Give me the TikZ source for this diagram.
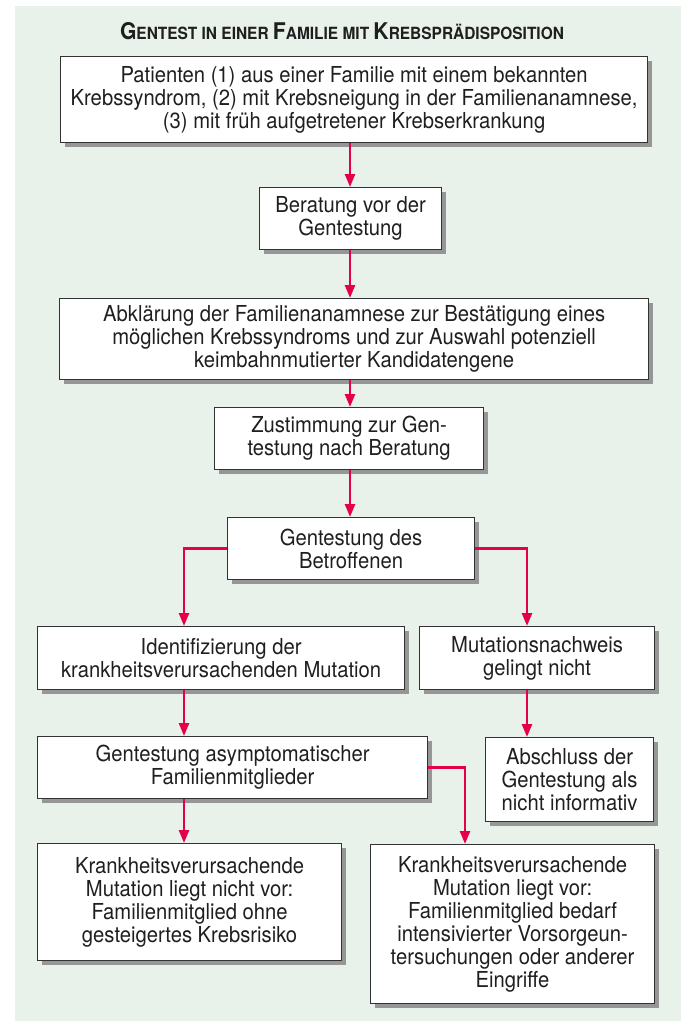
\documentclass[tikz,border=0pt]{standalone}
\usepackage{fontspec}
\setmainfont[FakeStretch=0.92]{TeX Gyre Heros}
\usetikzlibrary{arrows.meta,shadows}
\definecolor{panel}{RGB}{232,242,234}
\definecolor{arr}{RGB}{228,0,74}
\definecolor{frame}{RGB}{50,50,50}
\definecolor{shade}{RGB}{150,150,150}
\begin{document}
\begin{tikzpicture}[x=1pt,y=-1pt,
  box/.style={draw=frame, line width=1.2pt, fill=white, align=center, inner sep=0pt,
    anchor=north west, font=\fontsize{22}{23}\selectfont, text=black!88,
    drop shadow={shadow xshift=4pt, shadow yshift=-4pt, fill=shade, opacity=1}},
  conn/.style={draw=arr, line width=2.5pt, -{Triangle[length=13pt,width=10pt]}},
  ttl/.style={font=\bfseries\fontsize{16.8}{17}\selectfont, text=black!88, anchor=base}
]
\useasboundingbox (0,0) rectangle (681,1021);
\fill[panel] (15,6) rectangle (681,1021);

\node[ttl] (title) at (342,39) {{\fontsize{23}{23}\selectfont G}ENTEST IN EINER {\fontsize{23}{23}\selectfont F}AMILIE MIT {\fontsize{23}{23}\selectfont K}REBSPRÄDISPOSITION};

\node[box, minimum width=587pt, minimum height=86pt] (b1) at (60,56)
  {Patienten (1) aus einer Familie mit einem bekannten\\Krebssyndrom, (2) mit Krebsneigung in der Familienanamnese,\\(3) mit früh aufgetretener Krebserkrankung};
\node[box, minimum width=182pt, minimum height=62pt] (b2) at (259,187)
  {Beratung vor der\\Gentestung};
\node[box, minimum width=589pt, minimum height=81pt] (b3) at (59,298)
  {Abklärung der Familienanamnese zur Bestätigung eines\\möglichen Krebssyndroms und zur Auswahl potenziell\\keimbahnmutierter Kandidatengene};
\node[box, minimum width=269pt, minimum height=62pt] (b4) at (214,407)
  {Zustimmung zur Gen-\\testung nach Beratung};
\node[box, minimum width=247pt, minimum height=62pt] (b5) at (227,517)
  {Gentestung des\\Betroffenen};
\node[box, minimum width=367pt, minimum height=63pt] (b6) at (37,626)
  {Identifizierung der\\krankheitsverursachenden Mutation};
\node[box, minimum width=235pt, minimum height=63pt] (b7) at (419,626)
  {Mutationsnachweis\\gelingt nicht};
\node[box, minimum width=390pt, minimum height=62pt] (b8) at (37,736)
  {Gentestung asymptomatischer\\Familienmitglieder};
\node[box, minimum width=168pt, minimum height=84pt] (b9) at (485,737)
  {Abschluss der\\Gentestung als\\nicht informativ};
\node[box, minimum width=304pt, minimum height=117pt] (b10) at (37,843)
  {Krankheitsverursachende\\Mutation liegt nicht vor:\\Familienmitglied ohne\\gesteigertes Krebsrisiko};
\node[box, minimum width=284pt, minimum height=159pt] (b11) at (370,844)
  {Krankheitsverursachende\\Mutation liegt vor:\\Familienmitglied bedarf\\intensivierter Vorsorgeun-\\tersuchungen oder anderer\\Eingriffe};

\coordinate (cx) at (350,0);
\coordinate (lx) at (184,0);
\coordinate (rx) at (527,0);
\coordinate (mx) at (465,0);

\draw[conn] (cx |- b1.south) -- (cx |- b2.north);
\draw[conn] (cx |- b2.south) -- (cx |- b3.north);
\draw[conn] (cx |- b3.south) -- (cx |- b4.north);
\draw[conn] (cx |- b4.south) -- (cx |- b5.north);
\draw[conn] (b5.west) -| (lx |- b6.north);
\draw[conn] (b5.east) -| (rx |- b7.north);
\draw[conn] (lx |- b6.south) -- (lx |- b8.north);
\draw[conn] (rx |- b7.south) -- (rx |- b9.north);
\draw[conn] (lx |- b8.south) -- (lx |- b10.north);
\draw[conn] (b8.east) -| (mx |- b11.north);
\end{tikzpicture}
\end{document}
